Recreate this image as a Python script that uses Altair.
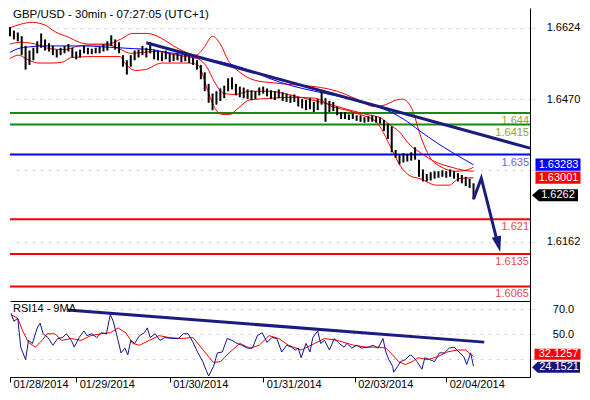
import altair as alt
import pandas as pd

# ---------------- texts ----------------
title_text = "GBP/USD - 30min - 07:27:05 (UTC+1)"
rsi_title = "RSI14 - 9MA"

# ---------------- price bars (every 2nd 30-min bar) ----------------
bar_idx = list(range(0, 240, 2))
bar_high = [1.6626, 1.6618, 1.6614, 1.6606, 1.6585, 1.6575, 1.6581, 1.6595, 1.6612, 1.6599,
            1.6591, 1.6585, 1.6577, 1.6581, 1.6585, 1.6589, 1.6581, 1.6573, 1.6577, 1.6585,
            1.6581, 1.6579, 1.6581, 1.6583, 1.6589, 1.6595, 1.6608, 1.6599, 1.6593, 1.6565,
            1.6554, 1.6565, 1.6575, 1.6577, 1.6585, 1.6581, 1.6593, 1.6577, 1.6573, 1.6571,
            1.6575, 1.6569, 1.6567, 1.6569, 1.6565, 1.6569, 1.6565, 1.6560, 1.6554, 1.6544,
            1.6528, 1.6503, 1.6482, 1.6487, 1.6493, 1.6499, 1.6515, 1.6517, 1.6503, 1.6497,
            1.6495, 1.6491, 1.6489, 1.6487, 1.6495, 1.6497, 1.6493, 1.6489, 1.6487, 1.6491,
            1.6485, 1.6482, 1.6478, 1.6480, 1.6474, 1.6470, 1.6468, 1.6472, 1.6464, 1.6470,
            1.6487, 1.6472, 1.6466, 1.6464, 1.6454, 1.6442, 1.6442, 1.6437, 1.6439, 1.6435,
            1.6435, 1.6431, 1.6433, 1.6435, 1.6433, 1.6431, 1.6425, 1.6417, 1.6411, 1.6360,
            1.6349, 1.6353, 1.6351, 1.6355, 1.6366, 1.6339, 1.6318, 1.6308, 1.6312, 1.6314,
            1.6314, 1.6316, 1.6314, 1.6318, 1.6314, 1.6310, 1.6306, 1.6302, 1.6298, 1.6288]
bar_low = [1.6606, 1.6599, 1.6595, 1.6565, 1.6534, 1.6544, 1.6554, 1.6569, 1.6581, 1.6575,
           1.6573, 1.6565, 1.6560, 1.6565, 1.6569, 1.6573, 1.6560, 1.6556, 1.6560, 1.6569,
           1.6567, 1.6567, 1.6569, 1.6569, 1.6573, 1.6575, 1.6585, 1.6577, 1.6569, 1.6540,
           1.6523, 1.6540, 1.6554, 1.6560, 1.6565, 1.6560, 1.6569, 1.6556, 1.6554, 1.6552,
           1.6556, 1.6550, 1.6552, 1.6554, 1.6550, 1.6552, 1.6548, 1.6544, 1.6534, 1.6513,
           1.6487, 1.6462, 1.6446, 1.6458, 1.6466, 1.6472, 1.6487, 1.6491, 1.6478, 1.6474,
           1.6472, 1.6470, 1.6468, 1.6470, 1.6478, 1.6482, 1.6476, 1.6470, 1.6468, 1.6472,
           1.6466, 1.6464, 1.6462, 1.6464, 1.6454, 1.6450, 1.6446, 1.6448, 1.6442, 1.6446,
           1.6458, 1.6421, 1.6442, 1.6444, 1.6435, 1.6427, 1.6427, 1.6425, 1.6427, 1.6423,
           1.6421, 1.6419, 1.6421, 1.6421, 1.6419, 1.6417, 1.6401, 1.6384, 1.6355, 1.6343,
           1.6329, 1.6333, 1.6335, 1.6337, 1.6339, 1.6302, 1.6292, 1.6292, 1.6294, 1.6298,
           1.6300, 1.6302, 1.6300, 1.6302, 1.6298, 1.6292, 1.6288, 1.6282, 1.6278, 1.6253]

# ---------------- overlays ----------------
ma_idx = [0, 4, 10, 18, 28, 38, 48, 56, 64, 73, 80.5, 88, 97, 104.5, 114.5, 124.5, 133, 144.5,
          156.5, 166.5, 178, 187, 195.5, 202, 210.5, 219, 227, 238]
ma_val = [1.6571, 1.6579, 1.6583, 1.6585, 1.6585, 1.6585, 1.6583, 1.6581, 1.6579, 1.6577, 1.6571,
          1.6567, 1.6560, 1.6554, 1.6544, 1.6530, 1.6515, 1.6499, 1.6487, 1.6478, 1.6468, 1.6456,
          1.6442, 1.6427, 1.6401, 1.6376, 1.6355, 1.6328]

up_idx = [0, 5.5, 11.5, 18, 23, 30.5, 35.5, 40.5, 50.5, 56.5, 63, 70.5, 78, 84, 90.5, 95.5, 99.5,
          104, 108, 112, 118, 125.5, 135.5, 145.5, 156.5, 168, 178, 187, 193, 197, 201.5, 206.5,
          210.5, 215.5, 221.5, 229, 235.5, 238]
up_val = [1.6624, 1.6632, 1.6636, 1.6630, 1.6616, 1.6603, 1.6593, 1.6589, 1.6589, 1.6599, 1.6612,
          1.6612, 1.6601, 1.6585, 1.6571, 1.6565, 1.6581, 1.6606, 1.6589, 1.6554, 1.6528, 1.6511,
          1.6505, 1.6501, 1.6497, 1.6487, 1.6470, 1.6454, 1.6458, 1.6466, 1.6470, 1.6448, 1.6394,
          1.6345, 1.6323, 1.6314, 1.6318, 1.6323]

lo_idx = [0, 4.5, 8, 14.5, 21.5, 27, 31.5, 43, 56.5, 59, 64.5, 69.5, 78, 91.5, 96.5, 101.5, 104.5,
          109, 113, 116.5, 123, 134.5, 144.5, 156.5, 166.5, 173, 179.5, 188, 195.5, 200.5, 205.5,
          210.5, 219, 225.5, 230.5, 238]
lo_val = [1.6558, 1.6565, 1.6558, 1.6548, 1.6548, 1.6550, 1.6560, 1.6562, 1.6562, 1.6548, 1.6532,
          1.6534, 1.6548, 1.6548, 1.6544, 1.6489, 1.6456, 1.6437, 1.6437, 1.6448, 1.6468, 1.6472,
          1.6474, 1.6472, 1.6452, 1.6446, 1.6437, 1.6421, 1.6366, 1.6325, 1.6304, 1.6298, 1.6284,
          1.6284, 1.6298, 1.6300]

mid_idx = [0, 5.5, 13, 20.5, 28, 35.5, 43, 50.5, 57, 62, 68, 75.5, 83, 90.5, 97, 101, 105, 110,
           115.5, 123, 133, 143, 153, 163, 173, 183, 190.5, 195.5, 199.5, 205.5, 210.5, 218, 226.5,
           233, 238]
mid_val = [1.6589, 1.6593, 1.6589, 1.6579, 1.6577, 1.6585, 1.6587, 1.6587, 1.6577, 1.6569, 1.6571,
           1.6573, 1.6567, 1.6562, 1.6556, 1.6540, 1.6507, 1.6482, 1.6480, 1.6487, 1.6487, 1.6480,
           1.6470, 1.6460, 1.6448, 1.6437, 1.6429, 1.6413, 1.6401, 1.6370, 1.6355, 1.6335, 1.6323,
           1.6316, 1.6314]

trend_idx = [70, 267]
trend_price = [1.6592, 1.6364]
arrow_idx = [238, 242, 250.5]
arrow_price = [1.6254, 1.6299, 1.6157]
arrow_head_idx = [250.75]
arrow_head_price = [1.6156]

levels = [1.644, 1.6415, 1.635, 1.621, 1.6135, 1.6065]
level_texts = ["1.644", "1.6415", "1.635", "1.621", "1.6135", "1.6065"]
level_colors = ["#138a13", "#138a13", "#0000ff", "#ff0000", "#ff0000", "#ff0000"]
level_text_colors = ["#8ea23c", "#8ea23c", "#6464f0", "#f04848", "#f04848", "#f04848"]

price_grid = [1.6162, 1.6316, 1.6470, 1.6624]
last_ma_blue = 1.63283
last_ma_red = 1.63001
last_price = 1.6262

# ---------------- RSI ----------------
rsi_idx = [0.5, 2, 4, 5.5, 8, 9.5, 11.5, 14, 15.5, 17, 19.5, 22, 24.5, 27, 29, 31.5, 33, 35.5, 38,
           39.5, 42, 44.5, 47, 49.5, 51.5, 53, 55.5, 57, 59, 60.5, 62, 64, 66.5, 69, 70.5, 72, 74.5,
           77, 79.5, 83, 86.5, 89, 91.5, 94, 96.5, 99, 100.5, 102, 104.5, 106.5, 109, 111.5, 114,
           116.5, 119, 122, 124.5, 127, 129.5, 132, 134.5, 137, 139.5, 142, 144.5, 146.5, 148,
           149.5, 152, 154, 155.5, 158, 159.5, 161.5, 164, 166.5, 169, 171.5, 173, 175.5, 178,
           180.5, 184, 186.5, 189, 191.5, 193, 194.5, 196.5, 197, 199, 200.5, 203, 205.5, 207, 209,
           211.5, 213, 215.5, 218, 220.5, 223, 225.5, 228, 230.5, 233, 234.5, 236.5, 238]
rsi_val = [66.6, 60.2, 62.5, 39.5, 29.5, 44.9, 42.5, 54.9, 58.7, 50.2, 47.2, 41.0, 46.4, 47.2, 50.2,
           44.9, 39.5, 47.2, 52.5, 48.7, 50.2, 47.2, 51.0, 50.2, 65.6, 60.2, 44.9, 34.9, 38.7, 33.3,
           44.9, 42.5, 48.7, 51.0, 54.9, 47.2, 50.2, 44.9, 47.2, 46.4, 46.4, 50.2, 50.2, 43.3, 34.9,
           27.9, 21.8, 16.4, 24.1, 34.9, 35.6, 46.4, 44.9, 42.5, 41.0, 38.7, 38.7, 48.7, 51.0, 43.3,
           47.2, 46.4, 35.6, 41.0, 39.5, 37.2, 38.7, 31.0, 42.5, 35.6, 47.2, 52.5, 42.5, 44.9, 37.2,
           46.4, 42.5, 39.5, 42.5, 38.7, 41.0, 38.7, 39.5, 41.0, 38.7, 46.4, 35.6, 29.5, 24.1, 19.5,
           24.1, 27.9, 29.5, 33.3, 31.8, 27.9, 21.8, 31.0, 29.5, 27.9, 34.9, 34.9, 38.7, 39.5, 35.6,
           31.8, 25.6, 34.9, 24.2]
rsima_idx = [0.5, 4, 6.5, 9.5, 13, 16.5, 19, 23, 26.5, 31.5, 36.5, 41.5, 46.5, 51.5, 55.5, 59.5,
             63, 66.5, 71.5, 76.5, 81.5, 88, 94, 98, 102, 104.5, 108, 113, 118, 123, 128, 133, 138,
             143, 149.5, 156.5, 161.5, 168, 176.5, 183, 189.5, 193, 196.5, 199.5, 203, 206.5,
             209.5, 214.5, 219.5, 224.5, 229.5, 234, 237, 238]
rsima_val = [65.6, 62.5, 52.5, 43.3, 39.5, 44.9, 50.2, 50.2, 44.9, 46.4, 44.9, 48.7, 50.2, 51.0,
             54.9, 51.0, 42.5, 41.0, 44.9, 48.7, 47.2, 46.4, 47.2, 39.5, 31.8, 27.2, 27.9, 35.6,
             42.5, 38.7, 41.0, 48.7, 46.4, 41.0, 37.2, 42.5, 46.4, 44.9, 41.0, 39.5, 39.5, 38.7,
             33.3, 27.9, 25.6, 27.9, 31.0, 29.5, 31.8, 35.6, 37.2, 37.2, 33.3, 32.1]
rsi_trend_idx = [29.5, 243.5]
rsi_trend_val = [69.2, 43.5]
rsi_grid = [30, 50, 70]
last_rsima = 32.1257
last_rsi = 24.1521

day_ticks = [0, 34, 82, 130, 177, 224]
day_labels = ["01/28/2014", "01/29/2014", "01/30/2014", "01/31/2014", "02/03/2014", "02/04/2014"]

# ---------------- styling ----------------
W, H1, H2 = 520, 293, 76
FONT = "Liberation Sans"
FS = 11
NAVY = "#1b1b80"
GRID = "#999999"

xs = alt.Scale(domain=[0, 267], nice=False, zero=False)
ys = alt.Scale(domain=[1.60335, 1.6667], nice=False, zero=False)
rs = alt.Scale(domain=[15.6, 76.4], nice=False, zero=False)

x_top_axis = alt.Axis(orient="bottom", labels=False, ticks=False, grid=False, domain=True,
                      domainColor="#000000", domainWidth=1, title=None)
price_axis = alt.Axis(orient="right", values=price_grid, grid=True, gridColor=GRID,
                      gridDash=[1, 7], gridWidth=1, domain=True, domainColor="#000000",
                      ticks=True, tickSize=5, tickColor=GRID, tickDash=[1, 2],
                      labelAlign="center", labelBaseline="middle", labelPadding=28,
                      labelExpr="abs(datum.value - 1.6316) < 0.0001 ? '' : format(datum.value, '.4f')",
                      labelFontSize=FS, labelFont=FONT, labelColor="#000000", title=None)
date_expr = " : ".join(f"datum.value == {v} ? '{t}'" for v, t in zip(day_ticks, day_labels)) + " : ''"
date_axis = alt.Axis(orient="bottom", values=day_ticks, grid=False, domain=True,
                     domainColor="#000000", ticks=True, tickSize=5, tickColor="#000000",
                     labelExpr=date_expr, labelAlign="left", labelBaseline="top",
                     labelPadding=-4, labelOffset=3, labelOverlap=False, labelBound=False,
                     labelFlush=False, labelFontSize=FS, labelFont=FONT, labelColor="#000000",
                     title=None)
rsi_axis = alt.Axis(orient="right", values=rsi_grid, grid=True, gridColor=GRID,
                    gridDash=[1, 7], gridWidth=1, domain=True, domainColor="#000000",
                    ticks=True, tickSize=5, tickColor=GRID, tickDash=[1, 2],
                    labelAlign="center", labelBaseline="middle", labelPadding=28,
                    labelExpr="datum.value == 30 ? '' : format(datum.value, '.1f')",
                    labelFontSize=FS, labelFont=FONT, labelColor="#000000", title=None)


def XM(f):
    return alt.X(f"{f}:Q", scale=xs, axis=x_top_axis)


def YM(f):
    return alt.Y(f"{f}:Q", scale=ys, axis=price_axis)


def XR(f):
    return alt.X(f"{f}:Q", scale=xs, axis=date_axis)


def YR(f):
    return alt.Y(f"{f}:Q", scale=rs, axis=rsi_axis)


# ---------------- data frames ----------------
levels_df = pd.DataFrame({"price": levels, "label": level_texts, "color": level_colors,
                          "tcolor": level_text_colors})
bars_df = pd.DataFrame({"idx": bar_idx, "high": bar_high, "low": bar_low})
lines_df = pd.concat([
    pd.DataFrame({"idx": up_idx, "v": up_val, "s": "upper", "color": "#ff0000"}),
    pd.DataFrame({"idx": lo_idx, "v": lo_val, "s": "lower", "color": "#ff0000"}),
    pd.DataFrame({"idx": mid_idx, "v": mid_val, "s": "mid", "color": "#ff0000"}),
    pd.DataFrame({"idx": ma_idx, "v": ma_val, "s": "ma", "color": "#0000ff"}),
])
trend_df = pd.DataFrame({"idx": trend_idx, "v": trend_price})
arrow_df = pd.DataFrame({"idx": arrow_idx, "v": arrow_price})
head_df = pd.DataFrame({"idx": arrow_head_idx, "v": arrow_head_price})

RECT = "M-1,-0.27L1,-0.27L1,0.27L-1,0.27Z"
PTR = "M-1,0L-0.7,-0.26L1,-0.26L1,0.26L-0.7,0.26Z"
PTR2 = "M-1,0L-0.76,-0.23L1,-0.23L1,0.23L-0.76,0.23Z"
RECT2 = "M-1,-0.24L1,-0.24L1,0.24L-1,0.24Z"


def value_box(value, text, fill, shape, size, cx, tx, yenc, off=0):
    d = pd.DataFrame({"v": [value], "t": [text]})
    b = alt.Chart(d).mark_point(shape=shape, size=size, filled=True, color=fill, opacity=1,
                                strokeWidth=0, yOffset=off).encode(x=alt.value(cx), y=yenc("v"))
    t = alt.Chart(d).mark_text(color="#ffffff", font=FONT, fontSize=FS, align="center",
                               baseline="middle", dy=off).encode(x=alt.value(tx), y=yenc("v"),
                                                                  text="t:N")
    return [b, t]


main_layers = [
    alt.Chart(levels_df).mark_rule(strokeWidth=2).encode(
        y=YM("price"), color=alt.Color("color:N", scale=None)),
    alt.Chart(levels_df).mark_text(align="right", baseline="top", dy=2, font=FONT, fontSize=FS).encode(
        x=alt.value(W - 1), y=YM("price"), text="label:N", color=alt.Color("tcolor:N", scale=None)),
    alt.Chart(lines_df).mark_line(strokeWidth=1, interpolate="monotone").encode(
        x=XM("idx"), y=YM("v"), detail="s:N", color=alt.Color("color:N", scale=None)),
    alt.Chart(bars_df).mark_rule(color="#000000", strokeWidth=2).encode(
        x=XM("idx"), y=YM("low"), y2=alt.Y2("high:Q")),
    alt.Chart(trend_df).mark_line(color=NAVY, strokeWidth=3).encode(x=XM("idx"), y=YM("v")),
    alt.Chart(arrow_df).mark_line(color=NAVY, strokeWidth=3, strokeJoin="miter").encode(
        x=XM("idx"), y=YM("v")),
    alt.Chart(head_df).mark_point(shape="M-0.6,-1L0.6,-1L0,1Z", size=256, filled=True, color=NAVY,
                                  opacity=1, strokeWidth=0, angle=346).encode(x=XM("idx"), y=YM("v")),
    alt.Chart(pd.DataFrame({"t": [title_text]})).mark_text(
        align="left", baseline="top", font=FONT, fontSize=11.5, color="#000000").encode(
        x=alt.value(3), y=alt.value(1), text="t:N"),
]
main_layers += value_box(last_ma_blue, "1.63283", "#0000ff", RECT, 45 ** 2, W + 28, W + 28.5, YM)
main_layers += value_box(last_ma_red, "1.63001", "#ff0000", RECT, 45 ** 2, W + 28, W + 28.5, YM)
main_layers += value_box(last_price, "1.6262", "#000000", PTR, 46 ** 2, W + 25, W + 28, YM)

main = alt.layer(*main_layers).properties(width=W, height=H1)

rsi_df = pd.DataFrame({"idx": rsi_idx, "v": rsi_val})
rsima_df = pd.DataFrame({"idx": rsima_idx, "v": rsima_val})
rsitr_df = pd.DataFrame({"idx": rsi_trend_idx, "v": rsi_trend_val})

rsi_layers = [
    alt.Chart(rsima_df).mark_line(color="#ff0000", strokeWidth=1).encode(x=XR("idx"), y=YR("v")),
    alt.Chart(rsi_df).mark_line(color="#14148a", strokeWidth=1).encode(x=XR("idx"), y=YR("v")),
    alt.Chart(rsitr_df).mark_line(color=NAVY, strokeWidth=3).encode(x=XR("idx"), y=YR("v")),
    alt.Chart(pd.DataFrame({"t": [rsi_title]})).mark_text(
        align="left", baseline="top", font=FONT, fontSize=FS, color="#000000").encode(
        x=alt.value(3), y=alt.value(2), text="t:N"),
]
rsi_layers += value_box(last_rsima, "32.1257", "#ff0000", RECT2, 46 ** 2, W + 27.5, W + 28.5, YR, -2)
rsi_layers += value_box(last_rsi, "24.1521", "#14147a", PTR2, 48 ** 2, W + 26, W + 29, YR, 1)

rsi = alt.layer(*rsi_layers).properties(width=W, height=H2)

chart = alt.vconcat(main, rsi, spacing=0).properties(
    padding={"left": 0, "right": 0, "top": 0, "bottom": 0}
).configure_view(stroke=None)

chart.save("out.html", embed_options={"renderer": "svg", "actions": False})
